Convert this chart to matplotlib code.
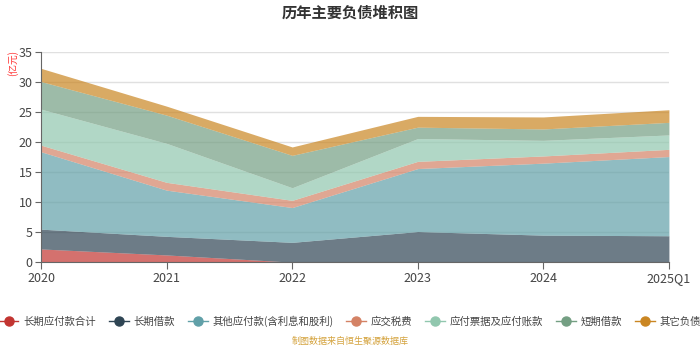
import matplotlib
matplotlib.use("Agg")
import matplotlib.pyplot as plt
from matplotlib.lines import Line2D
import numpy as np

plt.rcParams['font.family'] = ['Noto Sans CJK SC', 'DejaVu Sans']

categories = ["2020", "2021", "2022", "2023", "2024", "2025Q1"]
series_names = ["长期应付款合计", "长期借款", "其他应付款(含利息和股利)", "应交税费",
                "应付票据及应付账款", "短期借款", "其它负债"]
long_payables = [2.2, 1.2, 0.0, 0.0, 0.0, 0.0]
long_loans = [3.3, 3.1, 3.3, 5.1, 4.5, 4.4]
other_payables = [12.9, 7.7, 5.8, 10.5, 12.0, 13.2]
taxes = [1.1, 1.3, 1.2, 1.2, 1.2, 1.2]
notes_payable = [6.0, 6.5, 2.1, 3.8, 2.6, 2.4]
short_loans = [4.6, 4.7, 5.4, 1.9, 1.9, 2.1]
other_liab = [2.2, 1.5, 1.4, 1.8, 2.0, 2.1]
colors = ["#c23531", "#2f4554", "#61a0a8", "#d48265", "#91c7ae", "#749f83", "#ca8622"]

data = [long_payables, long_loans, other_payables, taxes, notes_payable, short_loans, other_liab]

fig = plt.figure(figsize=(7, 3.5), dpi=100)
ax = fig.add_axes([0.0586, 0.251, 0.897, 0.60])
x = np.arange(len(categories))
base = np.zeros(len(categories))
for vals, c in zip(data, colors):
    top = base + np.array(vals)
    ax.fill_between(x, base, top, color=c, alpha=0.7, linewidth=0)
    base = top

ax.set_xlim(0, len(categories) - 1)
ax.set_ylim(0, 35)
ax.set_yticks(range(0, 36, 5))
ax.set_xticks(x)
ax.set_xticklabels(categories)
ax.grid(axis='y', color='#e0e0e0', linewidth=1)
ax.set_axisbelow(True)
for s in ['top', 'right']:
    ax.spines[s].set_visible(False)
ax.spines['left'].set_color('#666666')
ax.spines['bottom'].set_color('#666666')
ax.tick_params(axis='y', length=4, color='#666666', labelcolor='#444444', labelsize=9, pad=2)
ax.tick_params(axis='x', length=5, color='#666666', labelcolor='#444444', labelsize=9, pad=2)

fig.text(0.5, 0.965, "历年主要负债堆积图", ha='center', va='center', fontsize=11, fontweight='bold', color='#333333')
fig.text(0.018, 0.82, "(亿元)", rotation=90, ha='center', va='center', fontsize=7, color='#ff3333')

handles = [Line2D([0], [0], color=c, marker='o', markersize=6.5, linewidth=1.0) for c in colors]
fig.legend(handles, series_names, loc='center', bbox_to_anchor=(0.5, 0.083), ncol=7, frameon=False,
           fontsize=7.5, handlelength=1.9, columnspacing=1.25, handletextpad=0.45,
           labelcolor='#444444', borderaxespad=0, borderpad=0)
fig.text(0.5, 0.012, "制图数据来自恒生聚源数据库", ha='center', va='bottom', fontsize=6.5, color='#d4a23c')

fig.savefig("out.png", dpi=100)
